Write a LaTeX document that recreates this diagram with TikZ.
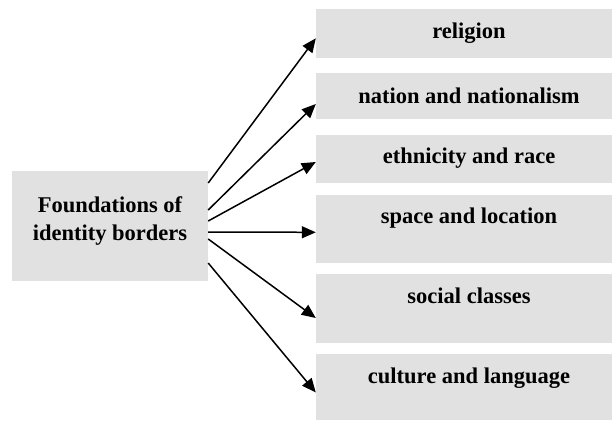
\documentclass[tikz,border=0pt]{standalone}
\usepackage{fontspec}
\setmainfont{Liberation Serif}
\usetikzlibrary{arrows.meta}
\definecolor{boxgray}{RGB}{225,225,225}

\begin{document}
\begin{tikzpicture}[x=1pt,y=1pt,
  box/.style={fill=boxgray,draw=none,inner sep=0pt,minimum width=296pt},
  lbl/.style={font=\bfseries\fontsize{22.5}{27.5}\selectfont,inner sep=0pt,anchor=base,align=center},
  arr/.style={-{Triangle[length=14pt,width=12pt]},line width=1.5pt}]
\useasboundingbox (0,0) rectangle (612,-420);
\node [box,minimum width=196pt,minimum height=110pt] (found) at (110,-226) {};
\node [lbl,anchor=center] (found-t) at (110,-220.8) {Foundations of\\identity borders};
\node [box,minimum height=49pt] (religion) at (464,-33.5) {};
\node [lbl] (religion-t) at (469,-39) {religion};
\node [box,minimum height=46pt] (nation) at (464,-96) {};
\node [lbl] (nation-t) at (469,-103) {nation and nationalism};
\node [box,minimum height=48pt] (ethnic) at (464,-159) {};
\node [lbl] (ethnic-t) at (469,-163) {ethnicity and race};
\node [box,minimum height=68pt] (space) at (464,-229) {};
\node [lbl] (space-t) at (469,-223) {space and location};
\node [box,minimum height=69pt] (social) at (464,-308.5) {};
\node [lbl] (social-t) at (469,-303) {social classes};
\node [box,minimum height=66pt] (culture) at (464,-387) {};
\node [lbl] (culture-t) at (469,-383) {culture and language};

\draw [arr] ([yshift=43pt]found.east) -- ([yshift=-4.8pt]religion.west);
\draw [arr] ([yshift=16pt]found.east) -- ([yshift=-8pt]nation.west);
\draw [arr] ([yshift=5pt]found.east) -- ([yshift=-3pt]ethnic.west);
\draw [arr] ([yshift=-6pt]found.east) -- ([yshift=-3.3pt]space.west);
\draw [arr] ([yshift=-13pt]found.east) -- ([yshift=-9.5pt]social.west);
\draw [arr] ([yshift=-37pt]found.east) -- ([yshift=-5.5pt]culture.west);
\end{tikzpicture}
\end{document}
